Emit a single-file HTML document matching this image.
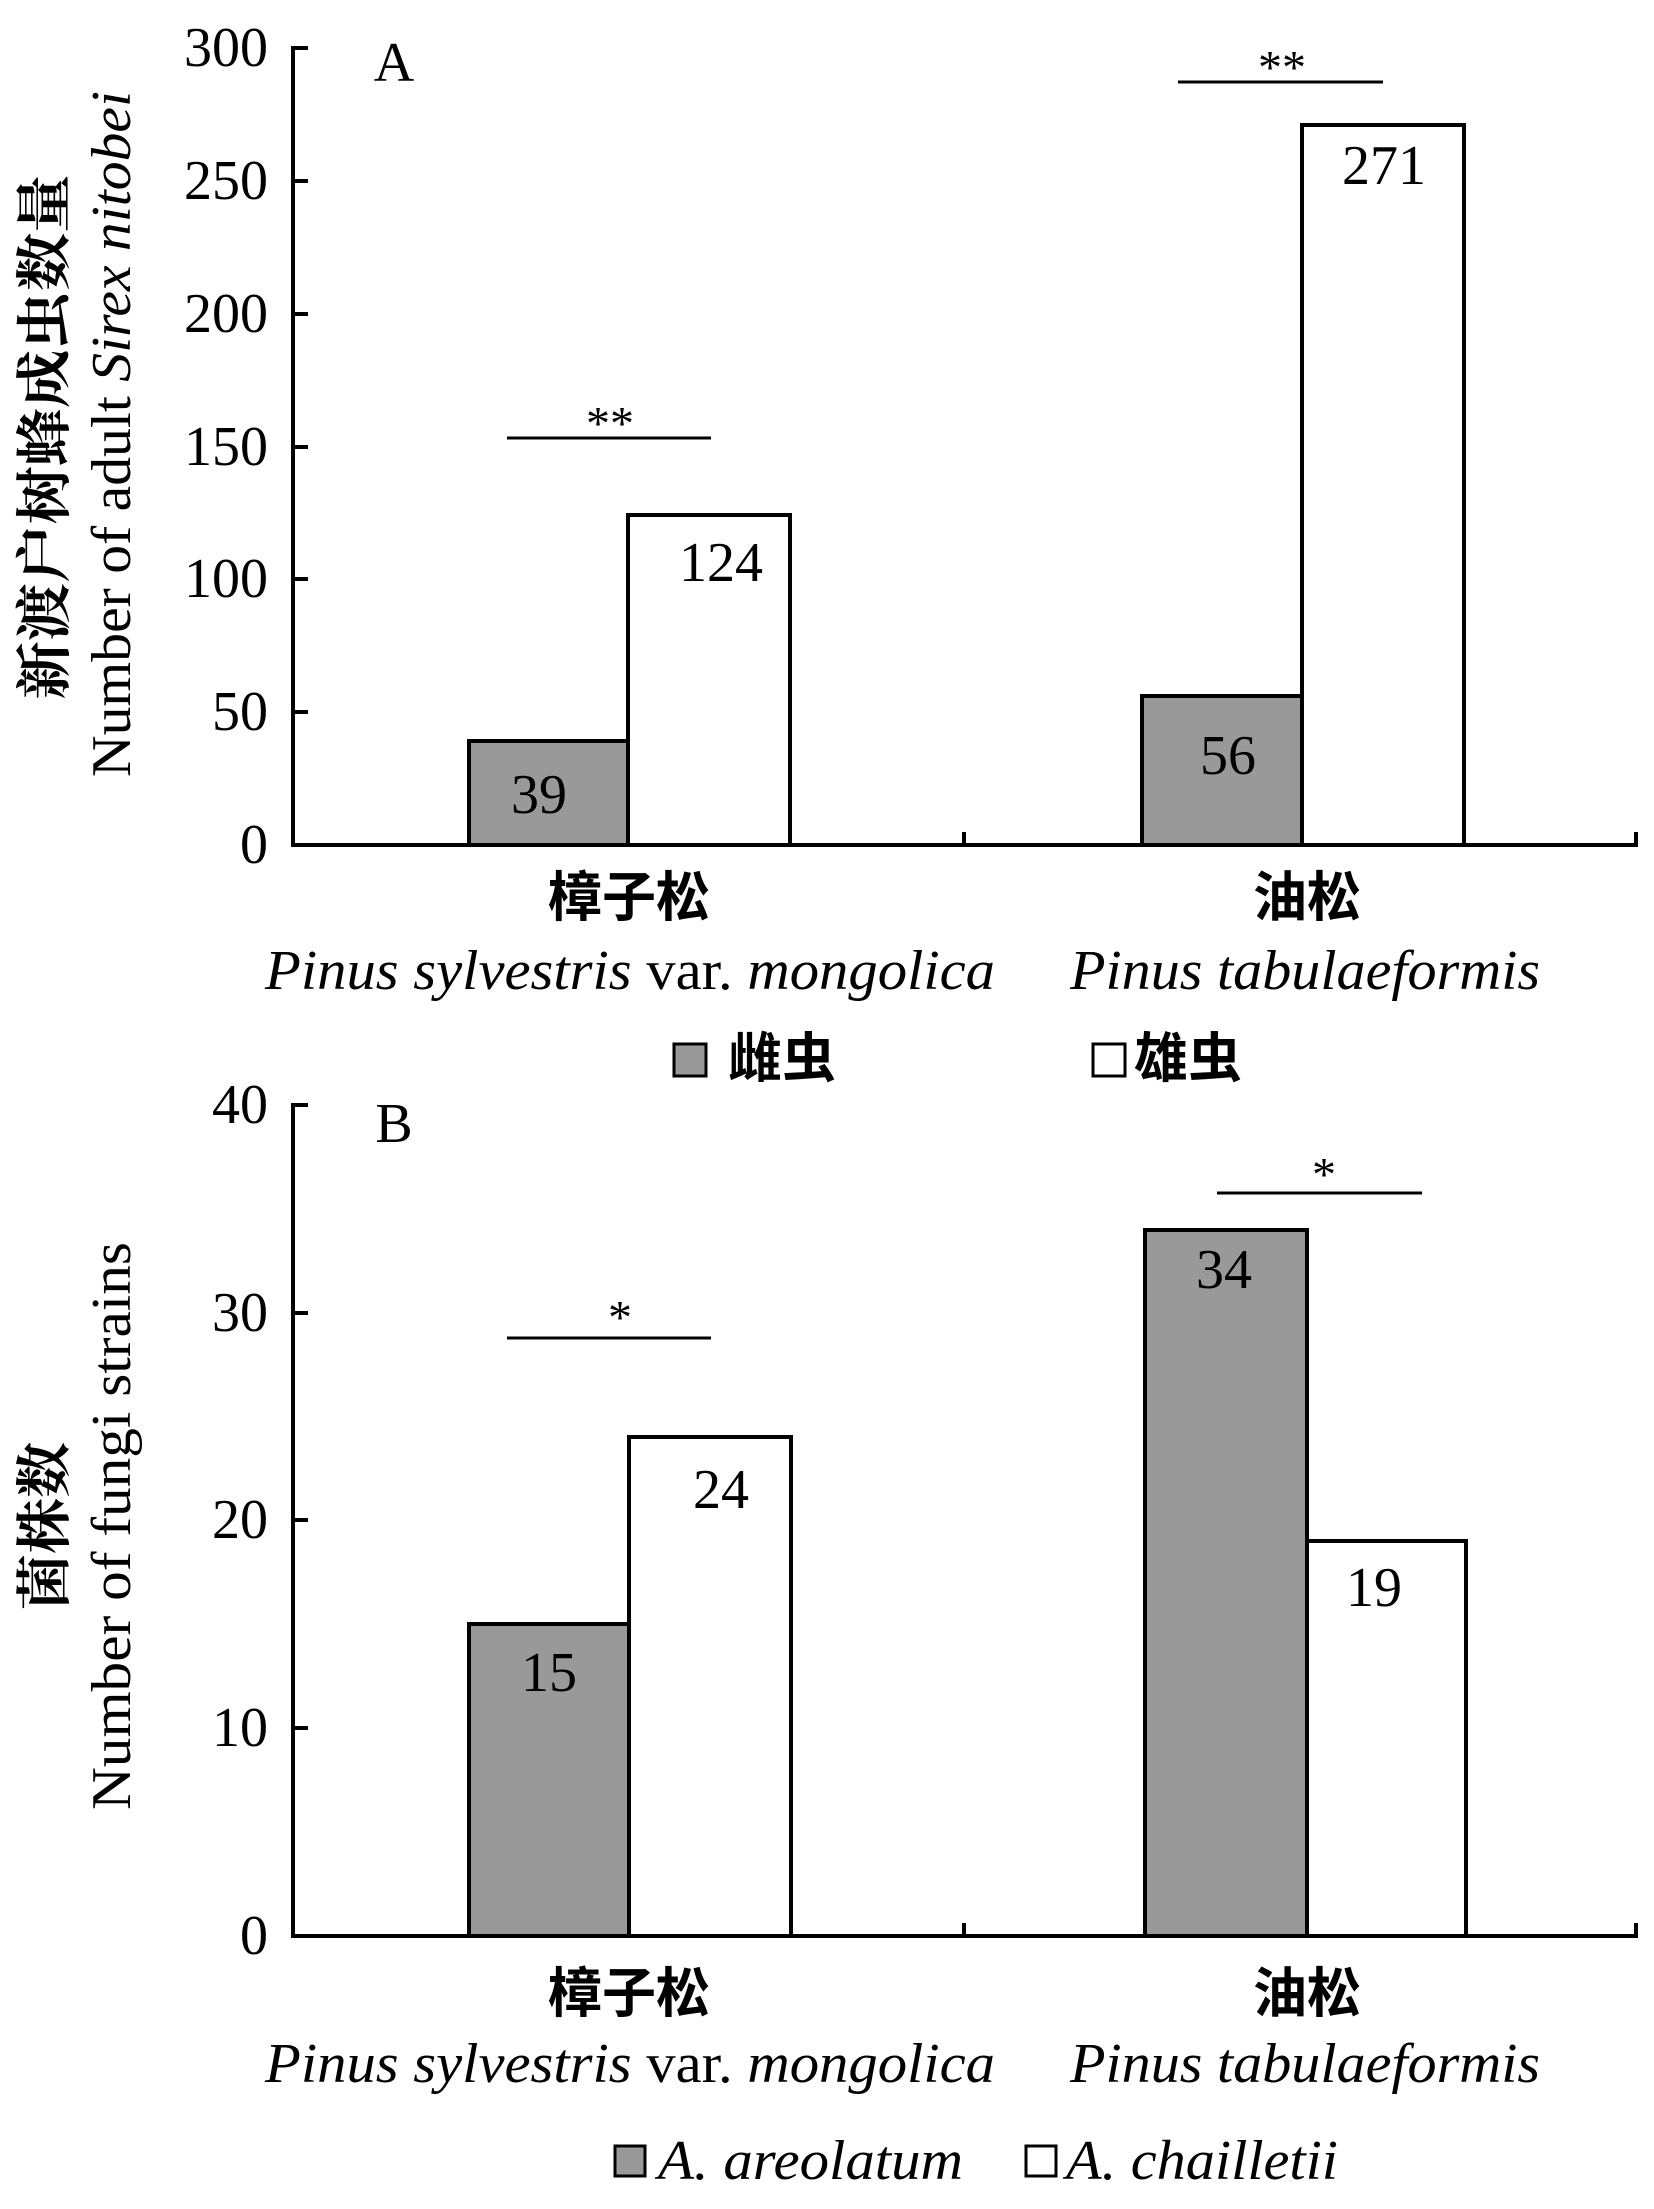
<!DOCTYPE html>
<html><head><meta charset="utf-8"><style>
html,body{margin:0;padding:0;background:#fff}
svg{display:block}
text{font-family:"Liberation Serif","Noto Serif CJK SC",serif;fill:#000}
.n{font-size:56px}
.zh{font-family:"Liberation Sans","Noto Sans CJK SC",sans-serif;font-weight:bold;font-size:54px}
.zs{font-family:"Liberation Serif","Noto Serif CJK SC",serif;font-weight:bold;font-size:56px}
.it{font-style:italic;font-size:56px}
</style></head><body>
<svg width="1654" height="2209" viewBox="0 0 1654 2209" xmlns="http://www.w3.org/2000/svg">
<g stroke="#000" stroke-width="4">
<!-- Panel A axes -->
<line x1="293" y1="46" x2="293" y2="847"/>
<line x1="291" y1="845" x2="1638" y2="845"/>
<line x1="964" y1="845" x2="964" y2="832"/>
<line x1="1636" y1="845" x2="1636" y2="832"/>
<line x1="293" y1="48" x2="308" y2="48"/>
<line x1="293" y1="181" x2="308" y2="181"/>
<line x1="293" y1="314" x2="308" y2="314"/>
<line x1="293" y1="447" x2="308" y2="447"/>
<line x1="293" y1="579" x2="308" y2="579"/>
<line x1="293" y1="712" x2="308" y2="712"/>
<!-- Bars A -->
<rect x="469" y="741" width="159" height="104" fill="#999"/>
<rect x="628" y="515" width="162" height="330" fill="#fff"/>
<rect x="1142" y="696" width="160" height="149" fill="#999"/>
<rect x="1302" y="125" width="162" height="720" fill="#fff"/>
<line x1="507" y1="438" x2="711" y2="438" stroke-width="3"/>
<line x1="1178" y1="82" x2="1383" y2="82" stroke-width="3"/>
<!-- Panel B axes -->
<line x1="293" y1="1103" x2="293" y2="1938"/>
<line x1="291" y1="1936" x2="1638" y2="1936"/>
<line x1="964" y1="1936" x2="964" y2="1923"/>
<line x1="1636" y1="1936" x2="1636" y2="1923"/>
<line x1="293" y1="1105" x2="308" y2="1105"/>
<line x1="293" y1="1313" x2="308" y2="1313"/>
<line x1="293" y1="1520" x2="308" y2="1520"/>
<line x1="293" y1="1728" x2="308" y2="1728"/>
<!-- Bars B -->
<rect x="469" y="1624" width="160" height="312" fill="#999"/>
<rect x="629" y="1437" width="162" height="499" fill="#fff"/>
<rect x="1145" y="1230" width="162" height="706" fill="#999"/>
<rect x="1307" y="1541" width="159" height="395" fill="#fff"/>
<line x1="507" y1="1338" x2="711" y2="1338" stroke-width="3"/>
<line x1="1217" y1="1193" x2="1422" y2="1193" stroke-width="3"/>
<!-- legends -->
<rect x="674" y="1044" width="32" height="32" fill="#999" stroke-width="3"/>
<rect x="1093" y="1044" width="32" height="32" fill="#fff" stroke-width="3"/>
<rect x="615" y="2146" width="30" height="30" fill="#999" stroke-width="3"/>
<rect x="1026" y="2146" width="30" height="30" fill="#fff" stroke-width="3"/>
</g>
<g class="n" text-anchor="end" dominant-baseline="central">
<text x="268" y="48">300</text><text x="268" y="181">250</text><text x="268" y="314">200</text>
<text x="268" y="447">150</text><text x="268" y="579">100</text><text x="268" y="712">50</text><text x="268" y="845">0</text>
<text x="268" y="1105">40</text><text x="268" y="1313">30</text><text x="268" y="1520">20</text><text x="268" y="1728">10</text><text x="268" y="1936">0</text>
</g>
<g class="n" text-anchor="middle" dominant-baseline="central">
<text x="394" y="63">A</text><text x="394" y="1124">B</text>
<text x="539" y="795">39</text><text x="721" y="563">124</text><text x="1228" y="756">56</text><text x="1384" y="166">271</text>
<text x="549" y="1673">15</text><text x="721" y="1490">24</text><text x="1224" y="1270">34</text><text x="1374" y="1588">19</text>
<text x="610" y="424" font-size="48">**</text><text x="1282" y="68" font-size="48">**</text>
<text x="620" y="1318" font-size="48">*</text><text x="1324" y="1175" font-size="48">*</text>
</g>
<g text-anchor="middle" dominant-baseline="central">
<text class="zh" x="629" y="898">樟子松</text><text class="zh" x="1307" y="898">油松</text>
<text class="zh" x="629" y="1994">樟子松</text><text class="zh" x="1307" y="1994">油松</text>
<text class="it" x="630" y="971" textLength="730" lengthAdjust="spacingAndGlyphs">Pinus sylvestris <tspan font-style="normal">var.</tspan> mongolica</text>
<text class="it" x="1305" y="971" textLength="470" lengthAdjust="spacingAndGlyphs">Pinus tabulaeformis</text>
<text class="it" x="630" y="2064" textLength="730" lengthAdjust="spacingAndGlyphs">Pinus sylvestris <tspan font-style="normal">var.</tspan> mongolica</text>
<text class="it" x="1305" y="2064" textLength="470" lengthAdjust="spacingAndGlyphs">Pinus tabulaeformis</text>
</g>
<g dominant-baseline="central">
<text class="zh" x="728" y="1059">雌虫</text>
<text class="zh" x="1134" y="1059">雄虫</text>
<text class="it" x="658" y="2161" textLength="305" lengthAdjust="spacingAndGlyphs">A. areolatum</text>
<text class="it" x="1066" y="2161" textLength="272" lengthAdjust="spacingAndGlyphs">A. chailletii</text>
</g>
<g text-anchor="middle" dominant-baseline="central">
<text class="zs" transform="translate(46,437) rotate(-90)" textLength="525" lengthAdjust="spacingAndGlyphs">新渡户树蜂成虫数量</text>
<text class="n" transform="translate(112,434) rotate(-90)" textLength="686" lengthAdjust="spacingAndGlyphs">Number of adult <tspan font-style="italic">Sirex nitobei</tspan></text>
<text class="zs" transform="translate(46,1526) rotate(-90)">菌株数</text>
<text class="n" transform="translate(112,1526) rotate(-90)" textLength="568" lengthAdjust="spacingAndGlyphs">Number of fungi strains</text>
</g>
</svg>
</body></html>
